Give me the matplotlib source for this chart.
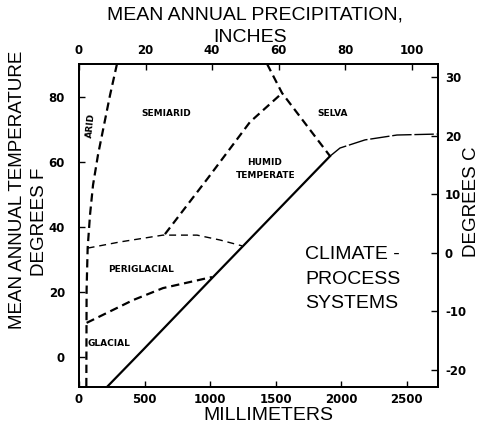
import matplotlib
matplotlib.use("Agg")
import matplotlib.pyplot as plt

plt.rcParams['lines.scale_dashes'] = False

# precipitation in mm, temperature in degrees F
arid_mm = [290, 237, 191, 145, 107, 84, 66, 58, 56]
arid_f = [90.2, 80.6, 71.4, 62.2, 52.9, 43.7, 33.5, 20.6, -9.2]

selva_mm = [1435, 1550, 1916]
selva_f = [90.2, 81.2, 61.8]

selva_low_mm = [1916, 1992, 2183, 2427, 2740]
selva_low_f = [61.8, 64.3, 66.8, 68.3, 68.6]

humid_mm = [656, 985, 1305, 1550]
humid_f = [37.8, 55.1, 72.3, 81.2]

perig_top_mm = [66, 313, 641, 901, 1076, 1244]
perig_top_f = [33.5, 35.4, 37.5, 37.5, 36.0, 34.2]

glacial_mm = [58, 412, 641, 1015]
glacial_f = [10.5, 17.5, 21.2, 24.6]

diag_mm = [214, 489, 1023, 1916]
diag_f = [-9.2, 2.2, 24.6, 61.8]

mm_ticks = [0, 500, 1000, 1500, 2000, 2500]
f_ticks = [0, 20, 40, 60, 80]
in_ticks = [0, 20, 40, 60, 80, 100]
c_ticks = [-20, -10, 0, 10, 20, 30]

xmax_mm = 2740
ymin_f, ymax_f = -9.23, 90.15

fig = plt.figure(figsize=(4.82, 4.28), dpi=100)
ax = fig.add_axes([79 / 482, 1 - 387 / 428, 359 / 482, 323 / 428])
ax.set_xlim(0, xmax_mm)
ax.set_ylim(ymin_f, ymax_f)

thick = dict(color='black', lw=1.6, dashes=(6, 3.5))
thin = dict(color='black', lw=1.0, dashes=(5, 3.5))

ax.plot(arid_mm, arid_f, **thick)
ax.plot(selva_mm, selva_f, **thick)
ax.plot(humid_mm, humid_f, **thick)
ax.plot(glacial_mm, glacial_f, **thick)
ax.plot(perig_top_mm, perig_top_f, **thin)
ax.plot(selva_low_mm, selva_low_f, color='black', lw=1.0, dashes=(14, 2))
ax.plot(diag_mm, diag_f, color='black', lw=1.6)

small = dict(fontsize=6.5, fontweight='bold', family='DejaVu Sans', ha='center', va='center')
ax.text(92, 71.4, 'ARID', rotation=84, **small)
ax.text(664, 75, 'SEMIARID', **small)
ax.text(1939, 75, 'SELVA', **small)
ax.text(1420, 59.7, 'HUMID', **small)
ax.text(1428, 55.7, 'TEMPERATE', **small)
ax.text(473, 26.8, 'PERIGLACIAL', **small)
ax.text(68, 4.3, 'GLACIAL', fontsize=6.5, fontweight='bold', family='DejaVu Sans',
        ha='left', va='center')
big = dict(fontsize=14, family='Liberation Sans', ha='left', va='center')
ax.text(1725, 31.4, 'CLIMATE -', **big)
ax.text(1725, 23.7, 'PROCESS', **big)
ax.text(1725, 16.6, 'SYSTEMS', **big)

tick_font = dict(fontsize=8.5, fontweight='bold', family='DejaVu Sans')

ax.set_xticks(mm_ticks)
ax.set_xticklabels([str(t) for t in mm_ticks], **tick_font)
ax.set_yticks(f_ticks)
ax.set_yticklabels([str(t) for t in f_ticks], **tick_font)
ax.tick_params(axis='x', direction='in', length=4, width=1, pad=4)
ax.tick_params(axis='y', direction='in', length=4, width=1, pad=10)

axt = ax.twiny()
axt.set_xlim(0, xmax_mm / 25.4)
axt.set_xticks(in_ticks)
axt.set_xticklabels([str(t) for t in in_ticks], **tick_font)
axt.tick_params(axis='x', direction='in', length=4, width=1, pad=5)

axr = ax.twinx()
axr.set_ylim((ymin_f - 32) * 5 / 9, (ymax_f - 32) * 5 / 9)
axr.set_yticks(c_ticks)
axr.set_yticklabels([str(t) for t in c_ticks], **tick_font)
axr.tick_params(axis='y', direction='in', length=5, width=1, pad=5)

for a in (ax, axt, axr):
    for s in a.spines.values():
        s.set_linewidth(1.2)

title_font = dict(fontsize=14, family='Liberation Sans', ha='center', va='center')
fig.text(255 / 482, 1 - 15 / 428, 'MEAN ANNUAL PRECIPITATION,', **title_font)
fig.text(250 / 482, 1 - 37 / 428, 'INCHES', **title_font)
fig.text(268 / 482, 1 - 416 / 428, 'MILLIMETERS', **title_font)
side_font = dict(fontsize=13.5, family='Liberation Sans', ha='center', va='center',
                 rotation=90)
fig.text(18 / 482, 1 - 190 / 428, 'MEAN ANNUAL TEMPERATURE', **side_font)
fig.text(39 / 482, 1 - 222 / 428, 'DEGREES F', **side_font)
fig.text(471 / 482, 1 - 202 / 428, 'DEGREES C', **side_font)

fig.savefig('out.png', dpi=100)
